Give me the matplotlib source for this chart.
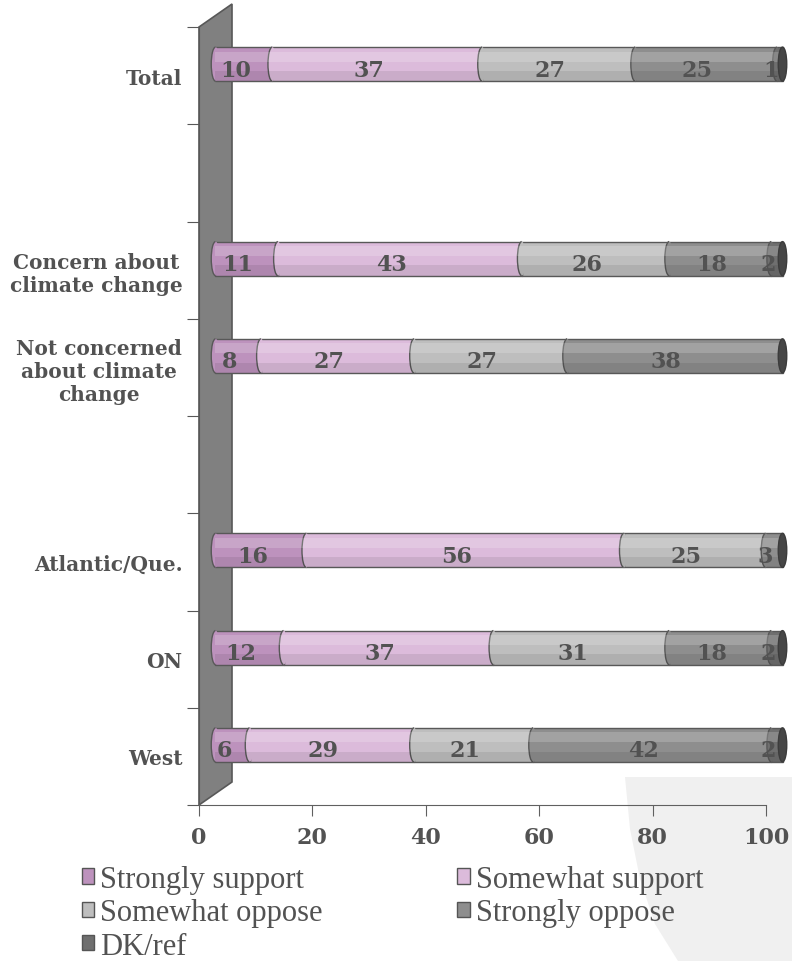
import numpy as np
import matplotlib
matplotlib.use('Agg')
import matplotlib.pyplot as plt
from matplotlib.patches import Polygon, Ellipse, Arc, Patch
from matplotlib.transforms import ScaledTranslation

categories = ['Total', '', 'Concern about\nclimate change', 'Not concerned\nabout climate\nchange',
              '', 'Atlantic/Que.', 'ON', 'West']
strongly_support = [10, 0, 11, 8, 0, 16, 12, 6]
somewhat_support = [37, 0, 43, 27, 0, 56, 37, 29]
somewhat_oppose = [27, 0, 26, 27, 0, 25, 31, 21]
strongly_oppose = [25, 0, 18, 38, 0, 3, 18, 42]
dk_ref = [1, 0, 2, 0, 0, 0, 2, 2]
series_names = ['Strongly support', 'Somewhat support', 'Somewhat oppose', 'Strongly oppose', 'DK/ref']
colors = ['#bd92bd', '#dcbbdb', '#bebebe', '#8e8e8e', '#6f6f6f']
xticks = [0, 20, 40, 60, 80, 100]

txt = '#525252'
edge = '#585858'

fig = plt.figure(figsize=(7.92, 9.62), dpi=100)

# light decorative shape behind lower right
bg = [(625, 778), (792, 778), (792, 962), (678, 962), (655, 925), (640, 880), (630, 830)]
fig.patches.append(Polygon([(x / 792, 1 - y / 962) for x, y in bg], closed=True,
                           transform=fig.transFigure, facecolor='#f0f0f0', edgecolor='none',
                           zorder=-5))

ax = fig.add_axes([199/792, 156/962, 567/792, 778/962])
ax.patch.set_alpha(0)
ax.set_xlim(0, 100)
ax.set_ylim(len(categories), 0)

# side wall of the 3d frame
dx, dy = 33/567, 23/778
ax.add_patch(Polygon([(0, 0), (0, 1), (dx, 1 + dy), (dx, dy)], closed=True, transform=ax.transAxes,
                     facecolor='#808080', edgecolor=edge, lw=1.2, clip_on=False, zorder=1))

shift = ax.transData + ScaledTranslation(16.5/100, 11.5/100, fig.dpi_scale_trans)
lab_tr = ax.transData + ScaledTranslation(8/100, 6/100, fig.dpi_scale_trans)

data = np.array([strongly_support, somewhat_support, somewhat_oppose, strongly_oppose, dk_ref])
h = 0.35
cap_w = 1.5
for i in range(len(categories)):
    total = data[:, i].sum()
    if total == 0:
        continue
    y = i + 0.5
    left = 0
    for k in range(len(series_names)):
        w = data[k, i]
        if w == 0:
            continue
        ax.barh(y, w, left=left, height=h, color=colors[k], edgecolor=edge, lw=1,
                transform=shift, zorder=2, clip_on=False)
        ax.add_patch(Ellipse((left, y), cap_w, h, facecolor=colors[k], edgecolor='none',
                             transform=shift, zorder=2.5, clip_on=False))
        ax.add_patch(Arc((left, y), cap_w, h, theta1=90, theta2=270, color=edge, lw=1,
                         transform=shift, zorder=2.6, clip_on=False))
        ax.text(left + w / 2, y, str(w), ha='center', va='center', fontsize=16,
                fontweight='bold', family='DejaVu Serif', color=txt, transform=lab_tr, zorder=3,
                clip_on=False)
        left += w
    # cylinder shading
    ax.barh(y - h * 0.22, total, height=h * 0.3, color='white', alpha=0.18, lw=0,
            transform=shift, zorder=2.7, clip_on=False)
    ax.barh(y + h * 0.35, total, height=h * 0.3, color='black', alpha=0.08, lw=0,
            transform=shift, zorder=2.7, clip_on=False)
    ax.add_patch(Ellipse((total, y), cap_w, h, facecolor='#464646', edgecolor='#3c3c3c', lw=1,
                         transform=shift, zorder=3.5, clip_on=False))

# axes styling
for s in ['top', 'right']:
    ax.spines[s].set_visible(False)
ax.spines['left'].set_color(edge)
ax.spines['bottom'].set_color('#606060')
ax.spines['left'].set_zorder(1.5)
ax.set_xticks(xticks)
ax.set_xticklabels([str(v) for v in xticks], fontsize=16, fontweight='bold', family='DejaVu Serif',
                   color=txt)
ax.tick_params(axis='x', length=8, color='#606060', pad=7)
ax.set_yticks(np.arange(len(categories) + 1))
ax.set_yticklabels([])
ax.tick_params(axis='y', which='major', length=9, color=edge)
ax.set_yticks(np.arange(len(categories)) + 0.5, minor=True)
ax.set_yticklabels(categories, minor=True, fontsize=14.5, fontweight='bold', family='DejaVu Serif',
                   color=txt)
ax.tick_params(axis='y', which='minor', length=0, pad=12)
for lab in ax.get_yticklabels(minor=True):
    lab.set_multialignment('center')
    lab.set_linespacing(1.2)

handles = [Patch(facecolor=c, edgecolor='#555555', lw=1) for c in colors]
order = [0, 2, 4, 1, 3]
fig.legend([handles[j] for j in order], [series_names[j] for j in order], ncol=2,
           loc='upper left', bbox_to_anchor=(82/792, 1 - 866/962), frameon=False,
           prop={'family': 'Liberation Serif', 'size': 22}, labelcolor=txt,
           handlelength=0.4, handleheight=0.4, handletextpad=0.2, labelspacing=0.14,
           columnspacing=4.4, borderpad=0, borderaxespad=0)

fig.savefig('out.png', dpi=100)
